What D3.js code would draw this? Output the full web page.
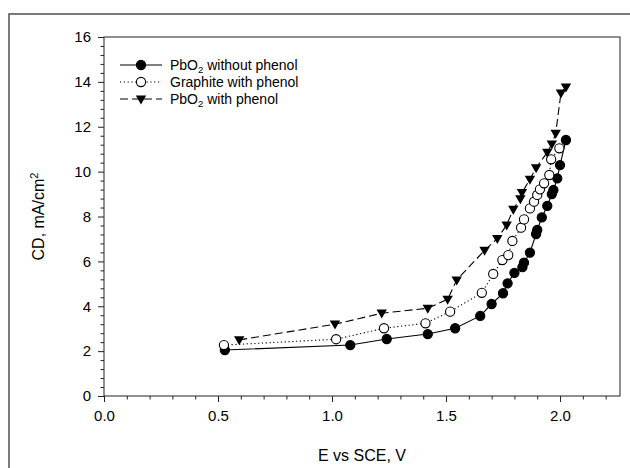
<!DOCTYPE html>
<html><head><meta charset="utf-8">
<script src="https://cdn.jsdelivr.net/npm/d3@7"></script>
<style>body{margin:0;background:#fff}svg{display:block}text{font-family:"Liberation Sans",Arial,sans-serif;fill:#000}</style>
</head><body>
<svg id="c" width="630" height="468"></svg>
<script>
const pbo2NoPhenolE  = [0.53,1.08,1.24,1.42,1.54,1.65,1.70,1.75,1.77,1.80,1.835,1.842,1.868,1.895,1.90,1.92,1.944,1.964,1.971,1.988,2.0,2.026];
const pbo2NoPhenolCD = [2.05,2.27,2.54,2.76,3.02,3.57,4.10,4.58,5.02,5.49,5.74,5.94,6.39,7.22,7.40,7.96,8.47,9.00,9.18,9.70,10.29,11.41];
const graphiteE  = [0.526,1.018,1.228,1.41,1.518,1.657,1.707,1.747,1.773,1.791,1.829,1.842,1.868,1.886,1.900,1.912,1.930,1.953,1.961,1.997];
const graphiteCD = [2.27,2.53,3.02,3.24,3.76,4.60,5.44,6.06,6.28,6.91,7.50,7.87,8.36,8.66,8.96,9.21,9.48,9.85,10.55,11.04];
const pbo2PhenolE  = [0.593,1.013,1.218,1.42,1.507,1.547,1.669,1.725,1.766,1.795,1.826,1.833,1.868,1.895,1.944,1.964,1.981,2.004,2.026];
const pbo2PhenolCD = [2.50,3.20,3.69,3.91,4.31,5.17,6.49,7.02,7.62,8.32,8.79,9.06,9.66,10.17,10.86,11.23,11.71,13.5,13.77];
const xTicks = [0,0.5,1.0,1.5,2.0];
const yTicks = [0,2,4,6,8,10,12,14,16];
const seriesNames = ["PbO|2| without phenol","Graphite with phenol","PbO|2| with phenol"];

const svg = d3.select("#c");
const L=104,R=620,T=37,B=396;
const x = d3.scaleLinear().domain([0,2.263]).range([L,R]);
const y = d3.scaleLinear().domain([0,16]).range([B,T]);

// outer frame
svg.append("rect").attr("x",9).attr("y",14).attr("width",700).attr("height",600)
  .attr("fill","none").attr("stroke","#5a5a5a").attr("stroke-width",1.6);

// plot box
svg.append("rect").attr("x",L).attr("y",T).attr("width",R-L).attr("height",B-T)
  .attr("fill","none").attr("stroke","#222").attr("stroke-width",1);

// minor ticks
const xMinor = d3.range(0,2.2501,0.1).filter(v=>Math.abs(v*2-Math.round(v*2))>1e-6);
const yMinor = d3.range(0,16.001,0.4).filter(v=>Math.abs(v/2-Math.round(v/2))>1e-6);

const gx = svg.append("g").attr("transform",`translate(0,${B})`)
  .call(d3.axisBottom(x).tickValues(xTicks).tickFormat(d3.format(".1f")).tickSize(6).tickPadding(8));
gx.select(".domain").remove();
gx.selectAll("text").attr("font-size",15).style("font-family","Liberation Sans, Arial, sans-serif");
gx.selectAll("line").attr("stroke","#222");
svg.append("g").attr("transform",`translate(0,${B})`)
  .call(d3.axisBottom(x).tickValues(xMinor).tickFormat("").tickSize(3.5))
  .call(g=>g.select(".domain").remove()).selectAll("line").attr("stroke","#222");

const gy = svg.append("g").attr("transform",`translate(${L},0)`)
  .call(d3.axisLeft(y).tickValues(yTicks).tickFormat(d3.format("d")).tickSize(6).tickPadding(7));
gy.select(".domain").remove();
gy.selectAll("text").attr("font-size",15).style("font-family","Liberation Sans, Arial, sans-serif");
gy.selectAll("line").attr("stroke","#222");
svg.append("g").attr("transform",`translate(${L},0)`)
  .call(d3.axisLeft(y).tickValues(yMinor).tickFormat("").tickSize(3.5))
  .call(g=>g.select(".domain").remove()).selectAll("line").attr("stroke","#222");

// axis titles
svg.append("text").attr("x",(L+R)/2).attr("y",461).attr("text-anchor","middle")
  .attr("font-size",16).text("E vs SCE, V");
const yt = svg.append("text").attr("transform",`translate(44,${(T+B)/2}) rotate(-90)`)
  .attr("text-anchor","middle").attr("font-size",16);
yt.append("tspan").text("CD, mA/cm");
yt.append("tspan").attr("dy",-6).attr("font-size",11).text("2");

const series = [
  {E:pbo2NoPhenolE, CD:pbo2NoPhenolCD, dash:null, sym:"circle", fill:"#000"},
  {E:graphiteE, CD:graphiteCD, dash:"1.2,2.6", sym:"circle", fill:"#fff"},
  {E:pbo2PhenolE, CD:pbo2PhenolCD, dash:"8,4", sym:"triangle", fill:"#000"}
];
const line = d3.line().x(d=>x(d[0])).y(d=>y(d[1]));
const triPath = "M-5.2,-3.6L5.2,-3.6L0,5.4Z";

function drawSym(g, s, cx, cy){
  if(s.sym==="circle"){
    g.append("circle").attr("cx",cx).attr("cy",cy).attr("r",4.6)
      .attr("fill",s.fill).attr("stroke","#000").attr("stroke-width",1.1);
  } else {
    g.append("path").attr("d",triPath).attr("transform",`translate(${cx},${cy})`).attr("fill","#000");
  }
}

series.forEach(s=>{
  const pts = s.E.map((e,i)=>[e,s.CD[i]]);
  svg.append("path").attr("d",line(pts)).attr("fill","none").attr("stroke","#000")
    .attr("stroke-width",1.1).attr("stroke-dasharray",s.dash);
});
series.forEach(s=>{
  const g = svg.append("g");
  s.E.forEach((e,i)=>drawSym(g,s,x(e),y(s.CD[i])));
});

// legend
const legY = [65,82,99];
series.forEach((s,i)=>{
  const g = svg.append("g");
  g.append("line").attr("x1",120).attr("x2",162).attr("y1",legY[i]).attr("y2",legY[i])
    .attr("stroke","#000").attr("stroke-width",1.1).attr("stroke-dasharray",s.dash);
  drawSym(g,s,141,legY[i]);
  const parts = seriesNames[i].split("|");
  const t = g.append("text").attr("x",170).attr("y",legY[i]+5).attr("font-size",14);
  if(parts.length===3){
    t.append("tspan").text(parts[0]);
    t.append("tspan").attr("dy",3).attr("font-size",9.5).text(parts[1]);
    t.append("tspan").attr("dy",-3).text(parts[2]);
  } else t.text(parts[0]);
});
</script>
</body></html>
